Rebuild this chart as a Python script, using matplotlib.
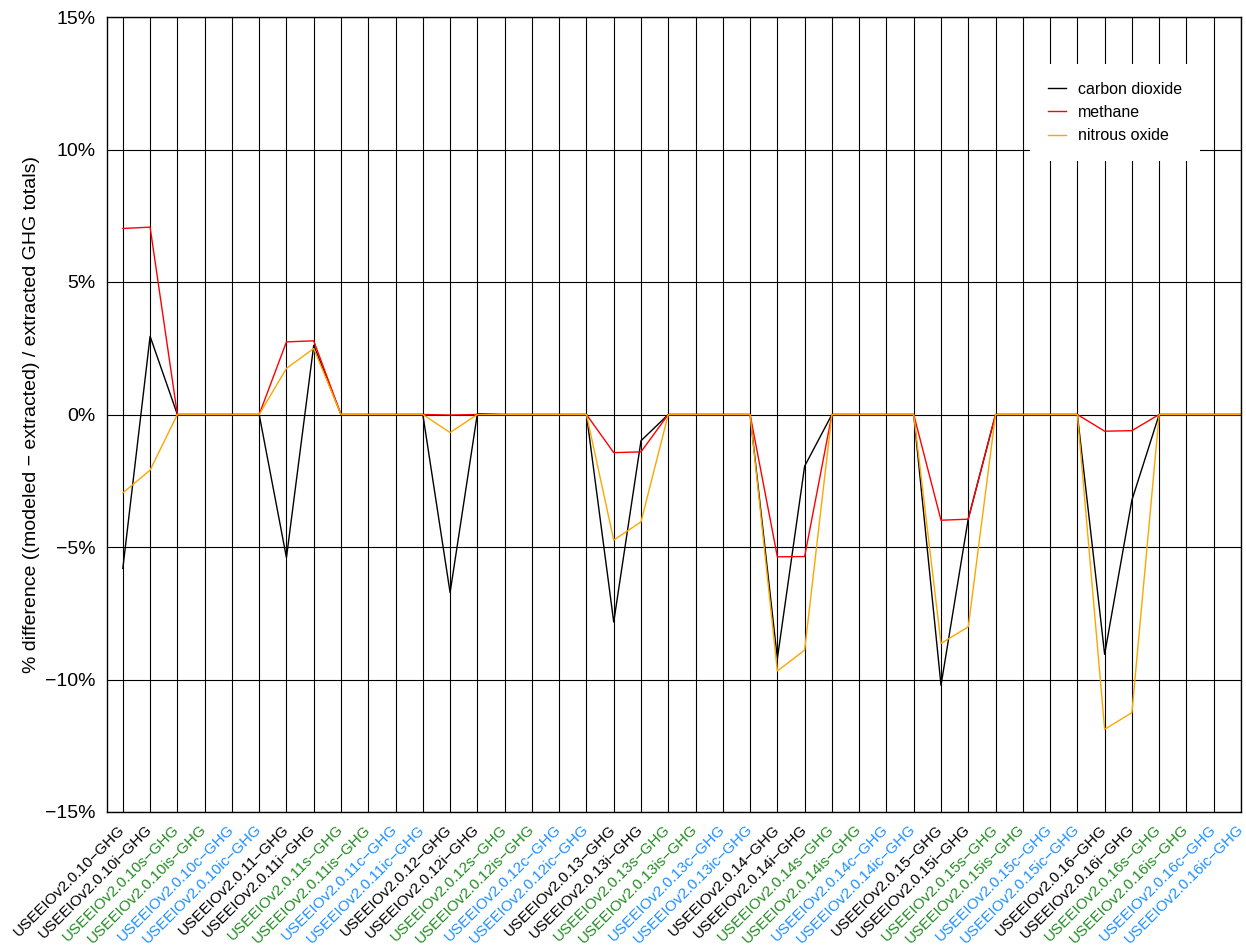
import matplotlib
matplotlib.use("Agg")
import matplotlib.pyplot as plt

plt.rcParams['font.family'] = ['Liberation Sans', 'DejaVu Sans']

# categories: 7 model versions x 6 variants
versions = ["10", "11", "12", "13", "14", "15", "16"]
variants = ["", "i", "s", "is", "c", "ic"]
variant_colors = {"": "black", "i": "black", "s": "forestgreen", "is": "forestgreen",
                  "c": "dodgerblue", "ic": "dodgerblue"}

labels = []
label_colors = []
for v in versions:
    for s in variants:
        labels.append("USEEIOv2.0." + v + s + "\u2212GHG")
        label_colors.append(variant_colors[s])

# % difference values
carbon_dioxide = [-5.81, 2.95, 0, 0, 0, 0,
                  -5.40, 2.61, 0, 0, 0, 0,
                  -6.72, 0.03, 0, 0, 0, 0,
                  -7.83, -0.99, 0, 0, 0, 0,
                  -9.21, -1.95, 0, 0, 0, 0,
                  -10.22, -3.93, 0, 0, 0, 0,
                  -9.05, -3.23, 0, 0, 0, 0]
methane = [7.02, 7.07, 0, 0, 0, 0,
           2.74, 2.78, 0, 0, 0, 0,
           -0.02, 0.0, 0, 0, 0, 0,
           -1.44, -1.41, 0, 0, 0, 0,
           -5.37, -5.36, 0, 0, 0, 0,
           -3.99, -3.95, 0, 0, 0, 0,
           -0.63, -0.61, 0, 0, 0, 0]
nitrous_oxide = [-2.96, -2.10, 0, 0, 0, 0,
                 1.74, 2.49, 0, 0, 0, 0,
                 -0.68, 0.0, 0, 0, 0, 0,
                 -4.74, -4.05, 0, 0, 0, 0,
                 -9.68, -8.89, 0, 0, 0, 0,
                 -8.64, -8.01, 0, 0, 0, 0,
                 -11.88, -11.25, 0, 0, 0, 0]

yticks = [-15, -10, -5, 0, 5, 10, 15]

fig = plt.figure(figsize=(12.46, 9.51), dpi=100)
ax = fig.add_axes([107/1246, 1 - 812/951, (1241 - 107)/1246, (812 - 17)/951])

x = list(range(len(labels)))
ax.plot(x, carbon_dioxide, color='black', lw=1.0, label='carbon dioxide')
ax.plot(x, methane, color='red', lw=1.0, label='methane')
ax.plot(x, nitrous_oxide, color='orange', lw=1.0, label='nitrous oxide')

ax.set_xlim(-0.58, len(labels) - 1)
ax.set_ylim(-15, 15)
ax.set_yticks(yticks)
ax.set_yticklabels([(str(t) if t >= 0 else "\u2212" + str(-t)) + "%" for t in yticks], fontsize=14)
ax.set_xticks(x)
ax.set_xticklabels(labels, rotation=45, ha='right', va='center', rotation_mode='anchor', fontsize=11)
for lab, c in zip(ax.get_xticklabels(), label_colors):
    lab.set_color(c)
ax.tick_params(axis='x', length=0, pad=11)
ax.tick_params(axis='y', length=0, pad=8)

ax.grid(True, color='black', lw=0.8)
ax.set_axisbelow(True)
for sp in ax.spines.values():
    sp.set_linewidth(1.0)

ax.set_ylabel("% difference ((modeled \u2212 extracted) / extracted GHG totals)", fontsize=14)
ax.yaxis.set_label_coords(-0.059, 0.5)

leg = ax.legend(loc='upper right', bbox_to_anchor=(1 - 41/1134, 1 - 47/795), borderaxespad=0,
                fontsize=11.5, frameon=True, fancybox=False, facecolor='white', edgecolor='none',
                framealpha=1, handlelength=1.15, handletextpad=0.75, labelspacing=0.53, borderpad=1.1)

plt.savefig("out.png", dpi=100)
